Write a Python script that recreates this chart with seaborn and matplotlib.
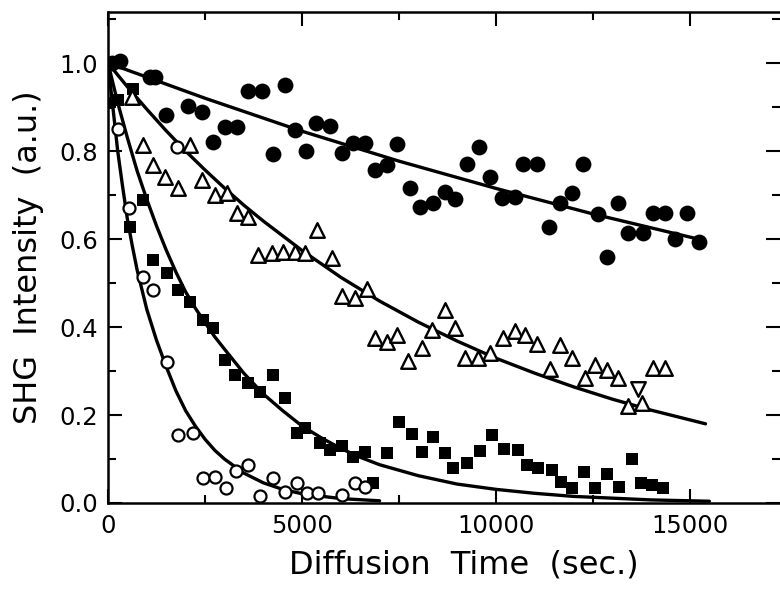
import matplotlib
matplotlib.use('Agg')
import matplotlib.pyplot as plt
import seaborn as sns
from matplotlib.ticker import MultipleLocator

# filled circles
t_fc = [100, 310, 1080, 1210, 1500, 2050, 2420, 2700, 3020, 3320, 3600, 3970, 4240, 4560, 4820,
        5100, 5370, 5720, 6030, 6310, 6620, 6880, 7190, 7450, 7780, 8040, 8380, 8690, 8940, 9250,
        9560, 9850, 10150, 10490, 10700, 11060, 11370, 11650, 11960, 12240, 12630, 12860, 13140,
        13400, 13790, 14050, 14360, 14610, 14920, 15230]
v_fc = [1.0, 1.005, 0.968, 0.968, 0.882, 0.903, 0.889, 0.82, 0.855, 0.855, 0.936, 0.936, 0.794, 0.95, 0.848,
        0.80, 0.864, 0.858, 0.795, 0.818, 0.818, 0.757, 0.768, 0.816, 0.716, 0.673, 0.682, 0.707, 0.69, 0.77,
        0.81, 0.74, 0.693, 0.695, 0.77, 0.77, 0.627, 0.682, 0.705, 0.77, 0.657, 0.56, 0.682,
        0.613, 0.613, 0.66, 0.66, 0.60, 0.66, 0.593]

# open triangles
t_tri = [610, 900, 1160, 1470, 1800, 2110, 2420, 2760, 3070, 3320, 3610, 3870, 4230, 4510, 4820,
         5080, 5390, 5770, 6030, 6370, 6680, 6880, 7190, 7450, 7730, 8090, 8350, 8690, 8940, 9200,
         9540, 9850, 10180, 10490, 10750, 11060, 11390, 11650, 11960, 12290, 12550, 12860, 13140,
         13400, 13760, 14050, 14360]
v_tri = [0.923, 0.813, 0.768, 0.741, 0.716, 0.813, 0.734, 0.70, 0.705, 0.66, 0.65, 0.564, 0.568, 0.57, 0.57,
         0.568, 0.62, 0.557, 0.47, 0.465, 0.487, 0.375, 0.366, 0.382, 0.323, 0.352, 0.393, 0.439, 0.398, 0.33,
         0.33, 0.341, 0.375, 0.391, 0.382, 0.362, 0.305, 0.359, 0.33, 0.284, 0.314, 0.302, 0.284,
         0.22, 0.227, 0.307, 0.307]
t_inv = [13660]
v_inv = [0.26]

# filled squares
t_sq = [0, 250, 650, 570, 910, 1170, 1520, 1800, 2110, 2450, 2700, 3020, 3270, 3610, 3920,
        4250, 4560, 4870, 5080, 5460, 5720, 6030, 6310, 6620, 6830, 7190, 7500, 7830, 8090, 8380,
        8690, 8890, 9250, 9590, 9910, 10200, 10580, 10800, 11080, 11440, 11680, 11970, 12260,
        12550, 12870, 13160, 13500, 13750, 14030, 14300]
v_sq = [0.91, 0.915, 0.94, 0.627, 0.688, 0.552, 0.522, 0.484, 0.457, 0.416, 0.398, 0.325, 0.291, 0.273, 0.252,
        0.291, 0.239, 0.16, 0.17, 0.137, 0.12, 0.13, 0.104, 0.116, 0.046, 0.114, 0.184, 0.157, 0.116, 0.15,
        0.114, 0.08, 0.09, 0.118, 0.155, 0.122, 0.12, 0.086, 0.08, 0.075, 0.048, 0.035, 0.07,
        0.035, 0.066, 0.036, 0.1, 0.046, 0.04, 0.035]

# open circles
t_oc = [260, 550, 900, 1170, 1520, 1780, 1800, 2190, 2450, 2760, 3050, 3290, 3610, 3920, 4240,
        4560, 4870, 5130, 5410, 6040, 6370, 6620]
v_oc = [0.85, 0.67, 0.514, 0.484, 0.32, 0.81, 0.155, 0.159, 0.057, 0.058, 0.035, 0.072, 0.086, 0.015, 0.057,
        0.025, 0.045, 0.023, 0.023, 0.018, 0.045, 0.036]

# fitted curves
fit_fc_t = [0, 2500, 5000, 7500, 10000, 12500, 15300]
fit_fc_v = [1.0, 0.92, 0.845, 0.777, 0.715, 0.657, 0.598]
fit_tri_t = [0, 500, 1000, 1500, 2000, 2500, 3000, 3500, 4000, 5000, 6000, 7000, 8000, 9000,
             10000, 11000, 12000, 13000, 14000, 15400]
fit_tri_v = [1.0, 0.946, 0.895, 0.846, 0.80, 0.757, 0.716, 0.677, 0.641, 0.574, 0.513, 0.459, 0.411, 0.368,
             0.329, 0.295, 0.264, 0.236, 0.211, 0.18]
fit_sq_t = [0, 250, 500, 750, 1000, 1250, 1500, 1750, 2000, 2250, 2500, 2750, 3000, 3500, 4000, 4500,
            5000, 5500, 6000, 6500, 7000, 8000, 9000, 10000, 11000, 12000, 13000, 14000, 15500]
fit_sq_v = [1.0, 0.91, 0.83, 0.755, 0.69, 0.63, 0.575, 0.525, 0.48, 0.443, 0.41, 0.378, 0.35, 0.295, 0.248, 0.21,
            0.175, 0.148, 0.124, 0.104, 0.087, 0.062, 0.043, 0.031, 0.022, 0.015, 0.011, 0.007, 0.004]
fit_oc_t = [0, 125, 250, 375, 500, 625, 750, 875, 1000, 1250, 1500, 1750, 2000, 2250, 2500, 2750,
            3000, 3500, 4000, 4500, 5000, 6000, 7000]
fit_oc_v = [1.0, 0.90, 0.80, 0.72, 0.645, 0.585, 0.53, 0.485, 0.44, 0.37, 0.31, 0.255, 0.21, 0.175, 0.145, 0.12,
            0.10, 0.068, 0.046, 0.031, 0.021, 0.01, 0.005]

sns.set_style('ticks')
plt.rcParams['font.family'] = ['DejaVu Sans']
plt.rcParams['text.color'] = 'black'
plt.rcParams['axes.labelcolor'] = 'black'
plt.rcParams['xtick.color'] = 'black'
plt.rcParams['ytick.color'] = 'black'
plt.rcParams['axes.edgecolor'] = 'black'

fig = plt.figure(figsize=(7.8, 5.89), dpi=100)
ax = fig.add_axes([108 / 780, 86 / 589, 672 / 780, 491 / 589])

for ft, fv in [(fit_fc_t, fit_fc_v), (fit_tri_t, fit_tri_v), (fit_sq_t, fit_sq_v), (fit_oc_t, fit_oc_v)]:
    sns.lineplot(x=ft, y=fv, ax=ax, color='black', linewidth=2.4, sort=False, estimator=None, zorder=2)

sns.scatterplot(x=t_fc, y=v_fc, ax=ax, marker='o', s=130, color='black', linewidth=0, zorder=3)
sns.scatterplot(x=t_sq, y=v_sq, ax=ax, marker='s', s=78, color='black', linewidth=0, zorder=3)
sns.scatterplot(x=t_tri, y=v_tri, ax=ax, marker='^', s=110, facecolor='white', edgecolor='black',
                linewidth=1.7, zorder=4)
sns.scatterplot(x=t_inv, y=v_inv, ax=ax, marker='v', s=110, facecolor='white', edgecolor='black',
                linewidth=1.7, zorder=4)
sns.scatterplot(x=t_oc, y=v_oc, ax=ax, marker='o', s=75, facecolor='white', edgecolor='black',
                linewidth=1.6, zorder=4)

ax.set_xlim(0, 17320)
ax.set_ylim(0, 1.116)
ax.xaxis.set_major_locator(MultipleLocator(5000))
ax.xaxis.set_minor_locator(MultipleLocator(2500))
ax.yaxis.set_major_locator(MultipleLocator(0.2))
ax.yaxis.set_minor_locator(MultipleLocator(0.1))
ax.yaxis.set_major_formatter(plt.FormatStrFormatter('%.1f'))

ax.tick_params(which='both', direction='in', top=True, right=True, width=1.5, labelsize=17.5,
               colors='black')
ax.tick_params(which='major', length=10)
ax.tick_params(which='minor', length=5.5)
ax.tick_params(axis='y', which='major', pad=7)
ax.tick_params(axis='x', which='major', pad=8)
for side in ['left', 'bottom', 'top']:
    ax.spines[side].set_linewidth(1.8)
ax.spines['right'].set_visible(False)

ax.set_xlabel('Diffusion  Time  (sec.)', fontsize=23)
ax.set_ylabel('SHG  Intensity  (a.u.)', fontsize=23)
ax.xaxis.set_label_coords(0.53, -0.095)
ax.yaxis.set_label_coords(-0.095, 0.5)

fig.savefig('out.png', dpi=100)
